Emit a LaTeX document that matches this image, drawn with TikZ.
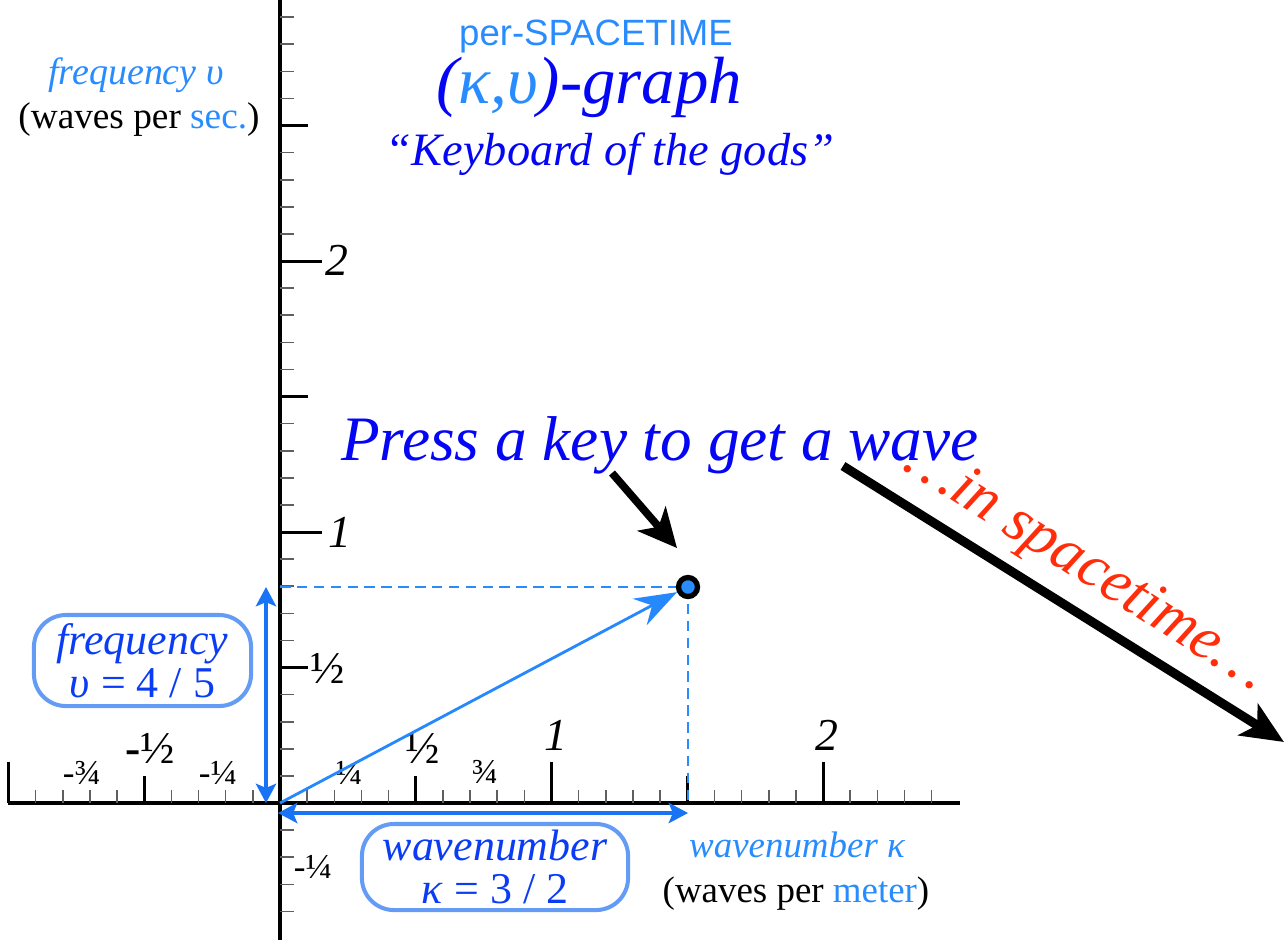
\documentclass[tikz,border=0pt]{standalone}
\usepackage{fontspec}
\setmainfont{Liberation Serif}
\newfontfamily\sansf{Liberation Sans}
\usetikzlibrary{arrows.meta}
\definecolor{dblue}{RGB}{5,5,245}
\definecolor{lblue}{RGB}{40,140,255}
\definecolor{bblue}{RGB}{100,155,245}
\definecolor{ablue}{RGB}{25,115,245}
\definecolor{tblue}{RGB}{10,60,245}
\definecolor{tred}{RGB}{255,45,10}
\definecolor{tickgray}{RGB}{95,95,95}
\newcommand\fsz[1]{\fontsize{#1}{#1}\selectfont}
\tikzset{
  axisline/.style={line width=1pt,black},
  minortick/.style={line width=0.45pt,tickgray},
  majortick/.style={line width=0.85pt,black},
  lbl/.style={anchor=base,inner sep=0pt},
  qbox/.style={draw=bblue,line width=1.15pt,rounded corners=0.32cm,align=center,
     text=tblue,inner sep=0pt,font=\fontsize{12.5}{12.2}\selectfont},
  dblarrow/.style={ablue,line width=0.9pt,{Stealth[length=5.5pt,width=5.8pt,inset=1.2pt]}-{Stealth[length=5.5pt,width=5.8pt,inset=1.2pt]}},
  vecarrow/.style={lblue!85!ablue,line width=0.8pt,-{Stealth[length=12pt,width=8.5pt,inset=4pt]}},
  guide/.style={lblue,line width=0.4pt,dash pattern=on 3pt off 1.8pt},
  pointer/.style={black,line width=2.2pt,-{Stealth[length=11pt,width=10.5pt,inset=3pt]}},
  bigarrow/.style={black,line width=2.6pt,-{Stealth[length=12pt,width=10.5pt,inset=3pt]}}
}
\begin{document}
\begin{tikzpicture}[x=0.01cm,y=-0.01cm]
\useasboundingbox (0,0) rectangle (1285,944);
% origin and key point
\coordinate (O) at (280,803);
\coordinate (P) at (688,587);
% axes
\draw[axisline] (8,803) -- (960,803);
\draw[axisline] (280,0) -- (280,940);
% x ticks
\foreach \k in {-10,...,24}{
  \ifnum\k=0\relax\else
  \draw[minortick] ({280+27.15*\k},803) -- ++(0,-13);
  \fi}
\foreach \k in {-5,5,15}{\draw[majortick] ({280+27.15*\k},803) -- ++(0,-27);}
\foreach \k in {-10,10,20}{\draw[majortick] ({280+27.15*\k},803) -- ++(0,-41);}
% y ticks
\foreach \k in {-4,...,29}{
  \ifnum\k=0\relax\else
  \draw[minortick] (280,{803-27.1*\k}) -- ++(14,0);
  \fi}
\foreach \k in {5,15,25}{\draw[majortick] (280,{803-27.1*\k}) -- ++(28,0);}
\foreach \k in {10,20}{\draw[majortick] (280,{803-27.1*\k}) -- ++(42,0);}
% x labels
\node[lbl,font=\fsz{10}] (xm34) at (82,784) {-¾};
\node[lbl,font=\fsz{13}] (xm12) at (150,763) {\textbf{-}½};
\node[lbl,font=\fsz{10}] (xm14) at (218,784) {-¼};
\node[lbl,font=\fsz{10}] (xp14) at (349,784) {¼};
\node[lbl,font=\fsz{13}] (xp12) at (423,763) {½};
\node[lbl,font=\fsz{10}] (xp34) at (485,783) {¾};
\node[lbl,font=\fsz{13}\itshape] (xp1) at (556,750) {1};
\node[lbl,font=\fsz{13}\itshape] (xp2) at (827,750) {2};
% y labels
\node[lbl,font=\fsz{13}\itshape] (yp2) at (337,275) {2};
\node[lbl,font=\fsz{13}\itshape] (yp1) at (340,547) {1};
\node[lbl,font=\fsz{13}] (yp12) at (328,683) {½};
\node[lbl,font=\fsz{10}] (ym14) at (313,878) {-¼};
% guides
\coordinate (Py) at (280,587);
\coordinate (Px) at (688,803);
\draw[guide] (Py) -- (P);
\draw[guide] (P) -- (Px);
% component arrows
\coordinate (Vb) at (266,803);
\coordinate (Vt) at (266,587);
\draw[dblarrow] (Vb) -- (Vt);
\coordinate (Hl) at (278,813);
\coordinate (Hr) at (688,813);
\draw[dblarrow] (Hl) -- (Hr);
% vector
\node[circle,draw=black,line width=1.5pt,fill=lblue,minimum size=0.19cm,inner sep=0pt] (key) at (P) {};
\draw[vecarrow] (O) -- (key.205);
% boxes
\node[qbox,minimum width=2.17cm,minimum height=0.91cm] (fbox) at (142.5,660.5)
  {\itshape frequency\\\textit{υ} = 4 / 5};
\node[qbox,minimum width=2.66cm,minimum height=0.86cm] (kbox) at (495,867)
  {\itshape wavenumber\\\textit{κ} = 3 / 2};
% axis titles
\node[lbl,font=\fsz{10.8}\itshape,text=lblue] (ftitle) at (136,84) {frequency υ};
\node[lbl,font=\fsz{10.6}] (funit) at (139,128) {(waves per \textcolor{lblue}{sec.})};
\node[lbl,font=\fsz{10.5}\itshape,text=lblue] (ktitle) at (797,857) {wavenumber κ};
\node[lbl,font=\fsz{10.5}] (kunit) at (796,902) {(waves per \textcolor{lblue}{meter})};
% title
\node[lbl,font=\sansf\fsz{10.4},text=lblue] (t1) at (596,45) {per-SPACETIME};
\node[lbl,font=\fsz{19}\itshape,text=dblue] (t2) at (589,103) {(\textcolor{lblue}{κ,υ})-graph};
\node[lbl,font=\fsz{13.2}\itshape,text=dblue] (t3) at (610,165) {“Keyboard of the gods”};
% press
\node[lbl,font=\fsz{18}\itshape,text=dblue] (press) at (660,460) {Press a key to get a wave};
\coordinate (pa) at (612,473);
\coordinate (pb) at (677,548);
\draw[pointer] (pa) -- (pb);
\coordinate (ba) at (843,466);
\coordinate (bb) at (1284,742);
\draw[bigarrow] (ba) -- (bb);
\node[lbl,font=\fsz{17.5}\itshape,text=tred,rotate=-32.3] (inst) at (1078,580) {…in spacetime…};
\end{tikzpicture}
\end{document}
